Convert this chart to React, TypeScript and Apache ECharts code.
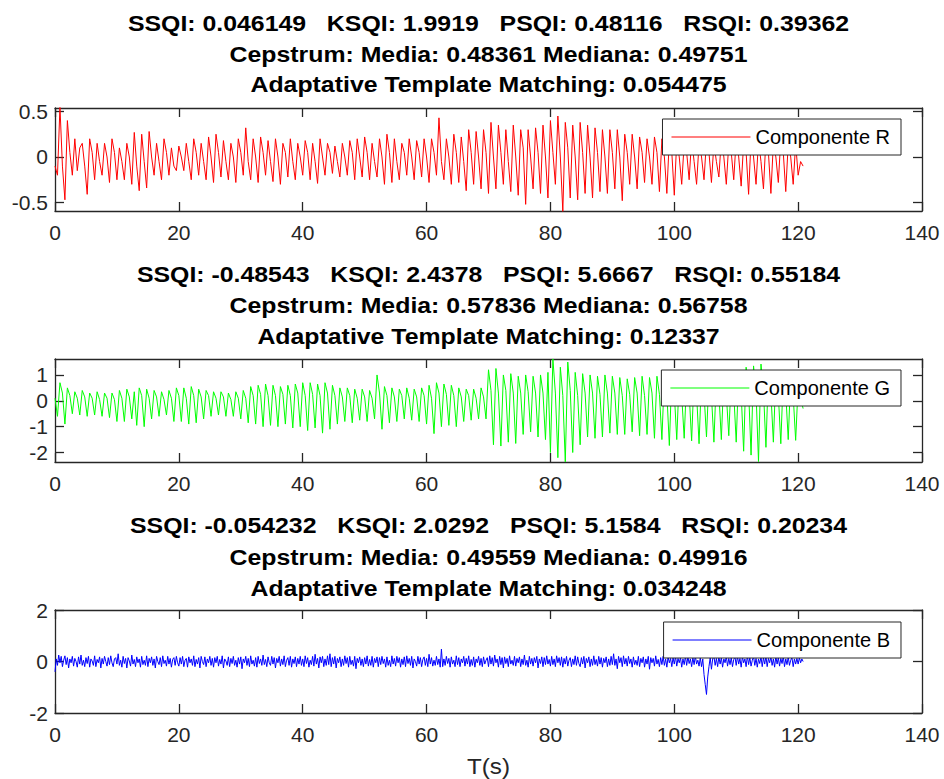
import React, { useEffect, useRef } from "react";
import * as echarts from "echarts";

// sampling steps of the signals (seconds)
const DT_RG = 0.4;
const DT_B = 0.2;

const X_TICKS = [0, 20, 40, 60, 80, 100, 120, 140];

// Componente R (t = 0 .. 120.8 s, step DT_RG)
const R_VALUES = [
  -0.1, -0.2, 0.55, -0.1, -0.47, 0.4, 0.05, -0.2, 0.2, -0.15, 0.1, 0.15, -0.1, -0.41, 0.2, 0.05, -0.25, 0.15, -0.05, -0.2, 0.15, 0.0, -0.28, 0.2, 0.05,
  -0.25, 0.1, -0.05, -0.25, 0.15, 0.0, -0.3, 0.27, -0.1, -0.37, 0.25, -0.05, -0.34, 0.28, 0.0, -0.2, 0.15, -0.05, -0.25, 0.2, 0.05, -0.2, 0.1, -0.1, -0.15,
  0.12, 0.0, -0.15, 0.15, -0.05, -0.25, 0.2, 0.05, -0.2, 0.15, -0.05, -0.25, 0.22, 0.0, -0.28, 0.25, 0.05, -0.22, 0.18, -0.05, -0.25, 0.15, 0.0, -0.28, 0.2,
  0.05, -0.2, 0.32, -0.05, -0.25, 0.2, 0.0, -0.28, 0.22, 0.05, -0.2, 0.18, -0.05, -0.27, 0.2, 0.0, -0.3, 0.15, 0.05, -0.22, 0.2, -0.05, -0.25, 0.15, 0.0,
  -0.2, 0.18, 0.05, -0.25, 0.15, -0.05, -0.29, 0.2, 0.0, -0.2, 0.15, 0.05, -0.18, 0.12, -0.05, -0.22, 0.15, 0.0, -0.2, 0.18, 0.05, -0.25, 0.2, 0.0, -0.22,
  0.22, 0.05, -0.25, 0.15, -0.05, -0.22, 0.2, 0.0, -0.3, 0.25, 0.05, -0.28, 0.2, -0.05, -0.25, 0.15, 0.05, -0.2, 0.2, 0.0, -0.25, 0.18, 0.05, -0.22, 0.2,
  0.0, -0.28, 0.2, 0.05, -0.2, 0.43, -0.05, -0.25, 0.2, 0.0, -0.3, 0.25, 0.05, -0.28, 0.22, -0.05, -0.37, 0.3, 0.05, -0.3, 0.28, 0.0, -0.35, 0.3, 0.05,
  -0.4, 0.38, 0.0, -0.35, 0.35, 0.05, -0.3, 0.3, -0.05, -0.38, 0.35, 0.0, -0.42, 0.3, 0.1, -0.52, 0.3, 0.0, -0.35, 0.32, 0.05, -0.4, 0.35, 0.0, -0.45,
  0.4, 0.05, -0.3, 0.45, 0.0, -0.6, 0.38, 0.1, -0.45, 0.35, 0.0, -0.47, 0.38, 0.05, -0.4, 0.35, 0.0, -0.45, 0.32, 0.05, -0.38, 0.3, 0.0, -0.4, 0.3,
  0.05, -0.35, 0.3, 0.0, -0.48, 0.25, 0.05, -0.3, 0.25, 0.0, -0.35, 0.22, 0.05, -0.28, 0.2, 0.0, -0.3, 0.22, 0.05, -0.38, 0.2, 0.0, -0.4, 0.2, 0.05,
  -0.42, 0.18, 0.0, -0.3, 0.15, 0.05, -0.25, 0.2, -0.05, -0.3, 0.15, 0.0, -0.25, 0.18, 0.05, -0.28, 0.15, -0.05, -0.22, 0.2, 0.0, -0.3, 0.15, 0.05, -0.25,
  0.2, 0.0, -0.32, 0.15, 0.05, -0.41, 0.2, 0.0, -0.3, 0.18, -0.05, -0.35, 0.2, 0.05, -0.4, 0.15, 0.0, -0.28, 0.2, 0.05, -0.38, 0.15, 0.0, -0.3, 0.15,
  -0.2, -0.05, -0.1,
];

// Componente G (t = 0 .. 120.8 s, step DT_RG)
const G_VALUES = [
  0.1, -0.6, 0.7, 0.3, -0.9, 0.5, 0.2, -0.5, 0.35, 0.1, -0.55, 0.4, 0.15, -0.6, 0.3, 0.1, -0.55, 0.35, 0.05, -0.6, 0.3, 0.1, -0.65, 0.3, 0.05,
  -0.8, 0.4, 0.1, -0.8, 0.45, 0.15, -0.7, 0.35, -0.95, 0.5, 0.2, -1.0, 0.45, 0.1, -0.7, 0.4, 0.15, -0.6, 0.35, 0.05, -0.55, 0.4, 0.1, -0.8, 0.5,
  0.2, -0.8, 0.5, 0.1, -0.9, 0.55, 0.2, -0.85, 0.45, 0.15, -0.7, 0.4, 0.2, -0.6, 0.35, 0.1, -0.55, 0.35, 0.15, -0.6, 0.3, 0.05, -0.6, 0.35, 0.1,
  -0.7, 0.4, 0.1, -0.85, 0.55, 0.2, -0.9, 0.6, 0.25, -1.0, 0.65, 0.2, -0.95, 0.6, 0.2, -1.0, 0.55, 0.25, -0.9, 0.6, 0.2, -1.05, 0.65, 0.3, -1.0,
  0.7, 0.2, -1.15, 0.7, 0.25, -1.05, 0.65, 0.2, -1.25, 0.7, 0.3, -1.1, 0.6, 0.2, -0.9, 0.5, 0.15, -0.8, 0.5, 0.2, -0.85, 0.45, 0.1, -0.75, 0.45,
  0.15, -0.8, 0.4, 0.1, -0.7, 1.0, 0.3, -1.1, 0.55, 0.2, -0.85, 0.5, 0.15, -0.8, 0.45, 0.2, -0.7, 0.5, 0.1, -0.75, 0.45, 0.15, -0.8, 0.5, 0.2,
  -0.9, 0.6, 0.1, -1.27, 0.7, 0.3, -1.0, 0.65, 0.25, -0.95, 0.6, 0.2, -1.0, 0.5, 0.15, -0.8, 0.45, 0.2, -0.75, 0.45, 0.1, -0.7, 0.5, 0.15, -0.7,
  1.2, 0.4, -1.7, 1.25, 0.3, -1.75, 1.0, 0.4, -1.6, 1.05, 0.3, -1.65, 0.95, 0.3, -1.3, 1.0, 0.35, -1.2, 0.95, 0.3, -1.4, 1.0, 0.3, -1.5, 1.1,
  -2.0, 1.62, 0.3, -2.2, 1.3, 0.2, -2.36, 1.5, 0.4, -2.0, 1.1, 0.2, -1.7, 1.05, 0.3, -1.4, 1.0, 0.3, -1.45, 0.95, 0.25, -1.4, 1.0, 0.3, -1.25,
  0.95, 0.3, -1.3, 0.9, 0.2, -1.3, 0.85, 0.25, -1.2, 0.9, 0.3, -1.35, 0.95, 0.2, -1.3, 0.9, 0.3, -1.45, 0.95, 0.25, -1.5, 1.0, 0.3, -1.73, 1.0,
  0.3, -1.5, 0.95, 0.2, -1.45, 0.9, 0.3, -1.55, 1.0, 0.25, -1.66, 0.95, 0.3, -1.4, 0.9, 0.2, -1.6, 0.95, 0.3, -1.5, 1.0, 0.25, -1.35, 0.95, 0.3,
  -1.6, 1.1, 0.3, -1.95, 1.3, 0.4, -2.1, 1.35, 0.3, -2.35, 1.42, 0.4, -1.8, 1.1, 0.3, -1.6, 1.0, 0.25, -1.66, 0.95, 0.3, -1.5, 0.9, 0.2, -1.53,
  0.6, 0.1, -0.3,
];

// Componente B (t = 0 .. 120.8 s, step DT_B)
const B_VALUES = [
  -0.4, 0.1, -0.15, 0.25, -0.05, 0.2, -0.2, 0.05, 0.22, -0.12, 0.15, -0.25, 0.1, -0.05, 0.2, -0.18, 0.12, 0.0, -0.22, 0.18, -0.1, 0.25, -0.15, 0.05, -0.2,
  0.15, -0.08, 0.2, -0.22, 0.1, 0.02, -0.15, 0.22, -0.2, 0.08, -0.05, 0.18, -0.25, 0.12, -0.1, 0.2, 0.0, -0.18, 0.15, -0.12, 0.22, -0.05, -0.2, 0.1, 0.15,
  -0.1, 0.3, -0.15, 0.05, -0.22, 0.2, -0.08, 0.12, -0.25, 0.15, 0.02, -0.18, 0.25, -0.1, 0.08, -0.2, 0.18, -0.05, 0.1, -0.22, 0.2, -0.12, 0.05, -0.15, 0.22,
  -0.2, 0.12, -0.05, 0.18, -0.15, 0.1, -0.25, 0.2, 0.0, -0.12, 0.15, -0.2, 0.22, -0.08, 0.05, -0.18, 0.2, -0.1, 0.12, -0.22, 0.08, 0.15, -0.15, 0.2, -0.05,
  -0.18, 0.15, -0.1, 0.2, -0.2, 0.05, 0.12, -0.22, 0.18, -0.05, 0.1, -0.15, 0.22, -0.2, 0.08, -0.1, 0.15, -0.25, 0.2, 0.0, -0.12, 0.18, -0.2, 0.1, -0.05,
  0.2, -0.15, 0.12, -0.22, 0.15, -0.05, 0.2, -0.18, 0.08, -0.1, 0.22, -0.25, 0.1, 0.02, -0.15, 0.18, -0.2, 0.12, -0.08, 0.2, -0.15, 0.05, -0.22, 0.15, -0.1,
  0.18, -0.28, 0.1, -0.05, 0.2, -0.15, 0.12, -0.2, 0.22, -0.1, 0.05, -0.18, 0.15, -0.22, 0.2, -0.08, 0.1, -0.15, 0.25, -0.12, 0.08, -0.2, 0.18, -0.05, -0.15,
  0.2, -0.1, 0.15, -0.25, 0.12, -0.05, 0.2, -0.18, 0.1, -0.12, 0.22, -0.2, 0.05, 0.15, -0.15, 0.2, -0.22, 0.1, -0.08, 0.18, -0.2, 0.12, -0.1, 0.2, -0.15,
  0.1, -0.2, 0.22, -0.08, 0.15, -0.22, 0.05, -0.12, 0.2, -0.18, 0.28, -0.1, 0.12, -0.25, 0.18, -0.05, 0.2, -0.2, 0.1, -0.15, 0.22, -0.12, 0.3, -0.2, 0.15,
  -0.1, 0.2, -0.25, 0.12, -0.05, 0.18, -0.2, 0.1, -0.15, 0.22, -0.08, 0.15, -0.22, 0.2, -0.12, 0.05, -0.18, 0.2, -0.28, 0.12, -0.05, 0.18, -0.15, 0.1, -0.2,
  0.15, -0.1, 0.22, -0.18, 0.08, -0.15, 0.2, -0.22, 0.12, -0.05, 0.18, -0.2, 0.15, -0.12, 0.2, -0.08, 0.1, -0.22, 0.18, -0.15, 0.05, -0.2, 0.22, -0.1, 0.12,
  -0.18, 0.2, -0.05, 0.15, -0.22, 0.1, -0.12, 0.18, -0.2, 0.22, -0.08, 0.12, -0.15, 0.2, -0.25, 0.1, 0.0, -0.18, 0.2, -0.1, 0.15, -0.2, 0.08, 0.18, -0.15,
  0.12, -0.2, 0.28, -0.1, 0.15, -0.18, 0.05, -0.15, 0.2, -0.12, 0.1, -0.22, 0.48, -0.2, 0.1, -0.15, 0.2, -0.08, 0.12, -0.22, 0.18, -0.1, 0.05, -0.2, 0.22,
  -0.12, 0.15, -0.2, 0.1, -0.05, 0.2, -0.18, 0.12, -0.1, 0.22, -0.2, 0.08, -0.15, 0.18, -0.22, 0.1, -0.05, 0.2, -0.15, 0.12, -0.2, 0.18, -0.1, 0.05, 0.15,
  -0.2, 0.22, -0.1, 0.15, -0.18, 0.25, -0.05, 0.1, -0.22, 0.2, -0.12, 0.15, -0.25, 0.18, -0.08, 0.12, -0.2, 0.22, -0.1, 0.05, -0.15, 0.2, -0.18, 0.12, -0.05,
  0.18, -0.2, 0.1, -0.12, 0.25, -0.15, 0.05, -0.22, 0.2, -0.1, 0.12, -0.18, 0.15, -0.05, 0.2, -0.25, 0.1, -0.08, 0.18, -0.2, 0.15, -0.12, 0.22, -0.1, 0.08,
  -0.18, 0.2, -0.12, 0.1, -0.2, 0.22, -0.05, 0.15, -0.15, 0.18, -0.22, 0.12, -0.1, 0.2, -0.18, 0.05, 0.15, -0.2, 0.1, -0.12, 0.22, -0.15, 0.18, -0.08, -0.2,
  0.15, -0.1, 0.2, -0.25, 0.12, -0.05, 0.18, -0.2, 0.1, -0.15, 0.22, -0.12, 0.08, -0.18, 0.2, -0.1, 0.15, -0.22, 0.12, -0.05, 0.18, -0.2, 0.1, -0.15, 0.2,
  -0.12, 0.3, -0.15, 0.1, -0.28, 0.2, -0.05, 0.15, -0.2, 0.22, -0.1, 0.12, -0.18, 0.2, -0.08, 0.1, -0.22, 0.18, -0.12, 0.05, -0.15, 0.2, -0.2, 0.12, -0.05,
  0.18, -0.22, 0.1, -0.1, 0.2, -0.3, 0.15, -0.05, 0.12, -0.18, 0.22, -0.1, 0.08, -0.2, 0.15, -0.12, 0.2, -0.15, 0.1, -0.22, 0.18, -0.05, 0.12, -0.2, 0.15,
  -0.1, 0.2, -0.18, 0.12, -0.05, 0.15, -0.22, 0.1, -0.12, 0.2, -0.15, 0.18, -0.08, 0.1, -0.2, 0.15, -0.12, 0.22, -0.1, 0.05, -0.18, 0.15, -0.2, 0.1, -0.5,
  -0.9, -1.28, -0.6, -0.2, 0.15, -0.3, 0.1, 0.2, -0.15, 0.12, -0.2, 0.18, -0.1, 0.15, -0.22, 0.1, -0.05, 0.2, -0.18, 0.12, -0.12, 0.15, -0.2, 0.08, 0.18,
  -0.15, 0.2, -0.1, 0.12, -0.22, 0.18, -0.05, 0.1, -0.2, 0.22, -0.12, 0.15, -0.18, 0.05, 0.2, -0.15, 0.12, -0.22, 0.1, -0.08, 0.18, -0.2, 0.15, -0.1, 0.2,
  -0.2, 0.12, -0.05, 0.18, -0.15, 0.1, -0.22, 0.2, -0.1, 0.15, -0.18, 0.12, -0.08, 0.2, -0.2, 0.1, -0.12, 0.18, -0.15, 0.05, 0.15, -0.2, 0.1, -0.1, 0.12,
  -0.1, 0.15, -0.05, 0.1, 0.0,
];

const R_Y_TICKS = [-0.5, 0, 0.5];
const G_Y_TICKS = [-2, -1, 0, 1];
const B_Y_TICKS = [-2, 0, 2];

const R_TITLE = [
  "SSQI: 0.046149   KSQI: 1.9919   PSQI: 0.48116   RSQI: 0.39362",
  "Cepstrum: Media: 0.48361 Mediana: 0.49751",
  "Adaptative Template Matching: 0.054475",
];
const G_TITLE = [
  "SSQI: -0.48543   KSQI: 2.4378   PSQI: 5.6667   RSQI: 0.55184",
  "Cepstrum: Media: 0.57836 Mediana: 0.56758",
  "Adaptative Template Matching: 0.12337",
];
const B_TITLE = [
  "SSQI: -0.054232   KSQI: 2.0292   PSQI: 5.1584   RSQI: 0.20234",
  "Cepstrum: Media: 0.49559 Mediana: 0.49916",
  "Adaptative Template Matching: 0.034248",
];

const X_LABEL = "T(s)";

const PANELS = [
  { name: "Componente R", color: "#ff0000", values: R_VALUES, dt: DT_RG, yMin: -0.593, yMax: 0.538, yTicks: R_Y_TICKS, title: R_TITLE, top: 108, titleY: [23.5, 54.4, 84.8], legendTop: 119 },
  { name: "Componente G", color: "#00ff00", values: G_VALUES, dt: DT_RG, yMin: -2.367, yMax: 1.617, yTicks: G_Y_TICKS, title: G_TITLE, top: 359, titleY: [274.5, 305.8, 336.7], legendTop: 370 },
  { name: "Componente B", color: "#0000ff", values: B_VALUES, dt: DT_B, yMin: -2, yMax: 2, yTicks: B_Y_TICKS, title: B_TITLE, top: 610, titleY: [525.9, 557.2, 588.1], legendTop: 622 },
];

const AXIS_COLOR = "#262626";
const FONT = "Liberation Sans, Arial, sans-serif";

export default function App() {
  const ref = useRef<HTMLDivElement>(null);

  useEffect(() => {
    document.body.style.margin = "0";
    if (!ref.current) return;
    const chart = echarts.init(ref.current, undefined, { renderer: "svg" });

    const axisLine = { show: true, onZero: false, lineStyle: { color: AXIS_COLOR, width: 1.3 } };
    const tickBase = { show: true, inside: true, length: 9, lineStyle: { color: AXIS_COLOR, width: 1.3 } };

    const grids: any[] = [];
    const xAxes: any[] = [];
    const yAxes: any[] = [];
    const series: any[] = [];
    const legends: any[] = [];
    const graphics: any[] = [];

    PANELS.forEach((p, g) => {
      grids.push({ left: 55, top: p.top, width: 867, height: 103, show: false });
      xAxes.push({
        type: "value", gridIndex: g, position: "bottom", min: 0, max: 140, interval: 20,
        axisLine, axisTick: { ...tickBase, customValues: X_TICKS },
        axisLabel: { show: true, customValues: X_TICKS, color: AXIS_COLOR, fontSize: 21, fontFamily: FONT, margin: 11 },
        splitLine: { show: false },
      });
      xAxes.push({
        type: "value", gridIndex: g, position: "top", min: 0, max: 140, interval: 20,
        axisLine, axisTick: { ...tickBase, customValues: X_TICKS },
        axisLabel: { show: false }, splitLine: { show: false },
      });
      yAxes.push({
        type: "value", gridIndex: g, position: "left", min: p.yMin, max: p.yMax,
        axisLine, axisTick: { ...tickBase, customValues: p.yTicks },
        axisLabel: { show: true, customValues: p.yTicks, color: AXIS_COLOR, fontSize: 21, fontFamily: FONT, margin: 7 },
        splitLine: { show: false },
      });
      yAxes.push({
        type: "value", gridIndex: g, position: "right", min: p.yMin, max: p.yMax,
        axisLine, axisTick: { ...tickBase, customValues: p.yTicks },
        axisLabel: { show: false }, splitLine: { show: false },
      });
      series.push({
        type: "line", name: p.name, xAxisIndex: 2 * g, yAxisIndex: 2 * g,
        data: p.values.map((v, i) => [i * p.dt, v]),
        symbol: "none", showSymbol: false, clip: true,
        lineStyle: { color: p.color, width: 1 }, itemStyle: { color: p.color },
        emphasis: { disabled: true },
      });
      legends.push({
        show: true, data: [p.name], right: 43, top: p.legendTop, orient: "horizontal",
        backgroundColor: "#ffffff", borderColor: AXIS_COLOR, borderWidth: 1, borderRadius: 0,
        padding: [8, 11, 8, 9], icon: "rect", itemWidth: 79, itemHeight: 1.2, selectedMode: false,
        textStyle: { fontSize: 20, fontFamily: FONT, color: "#000000" },
      });
      p.title.forEach((line, i) => {
        graphics.push({
          type: "text", x: 488.5, y: p.titleY[i], scaleX: 1.13, scaleY: 1,
          style: {
            text: line, fill: "#000000", fontSize: 22, fontWeight: "bold", fontFamily: FONT,
            align: "center", verticalAlign: "middle", textAlign: "center", textVerticalAlign: "middle",
          },
        });
      });
    });

    graphics.push({
      type: "text", x: 488.5, y: 766, scaleX: 1.1, scaleY: 1,
      style: {
        text: X_LABEL, fill: AXIS_COLOR, fontSize: 22, fontFamily: FONT,
        align: "center", verticalAlign: "middle", textAlign: "center", textVerticalAlign: "middle",
      },
    });

    chart.setOption({
      animation: false,
      backgroundColor: "#ffffff",
      grid: grids,
      xAxis: xAxes,
      yAxis: yAxes,
      series,
      legend: legends,
      graphic: graphics,
    });

    return () => {
      chart.dispose();
    };
  }, []);

  return <div ref={ref} style={{ width: 944, height: 779 }} />;
}
